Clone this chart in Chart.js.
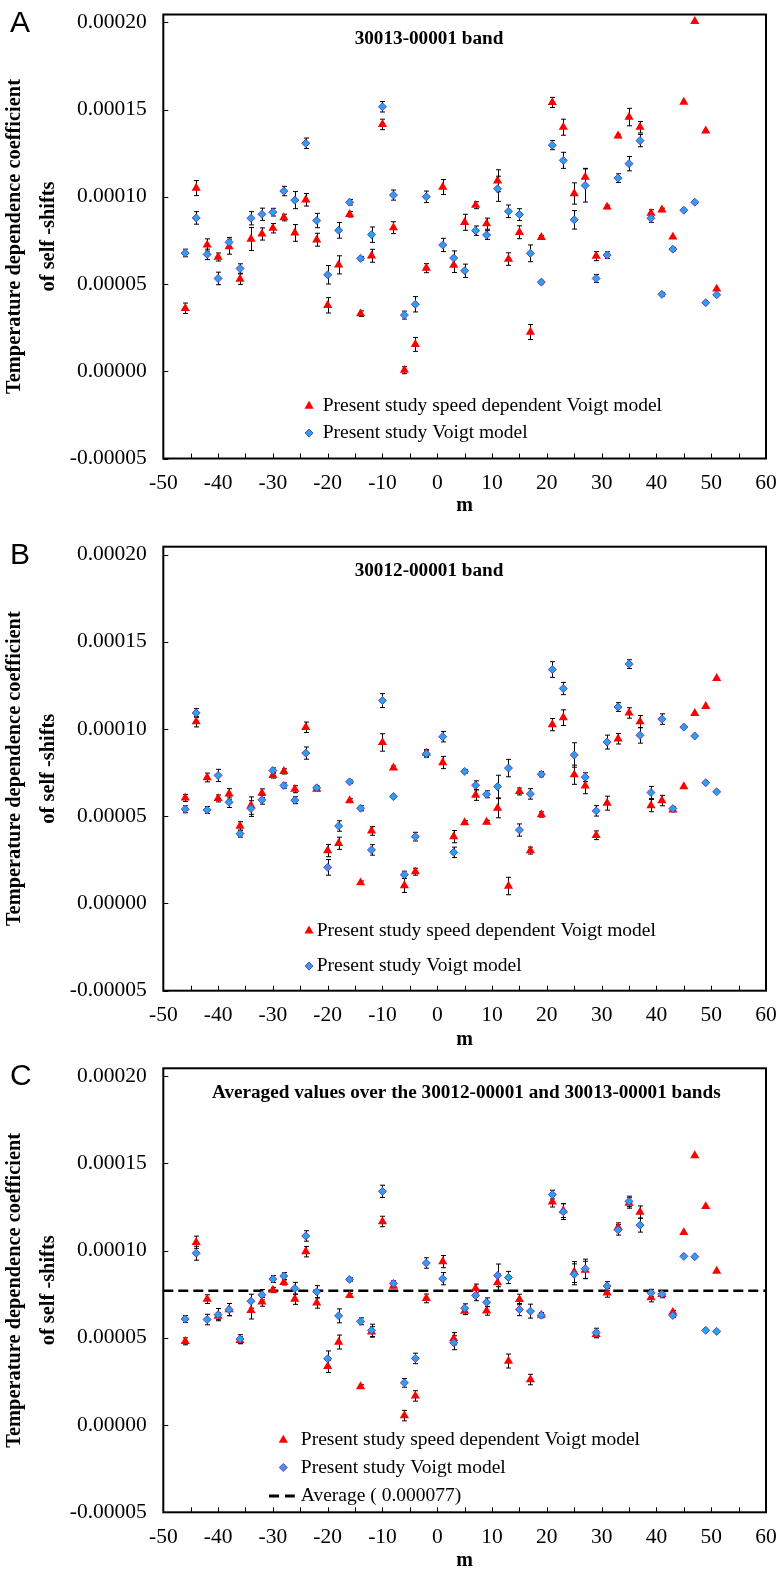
<!DOCTYPE html>
<html>
<head>
<meta charset="utf-8">
<script src="https://cdn.jsdelivr.net/npm/chart.js@4.4.1/dist/chart.umd.min.js"></script>
<style>
  html, body { margin: 0; padding: 0; background: #fff; }
  #wrap { position: relative; width: 780px; height: 1571px; }
  #wrap canvas { position: absolute; left: 0; }
</style>
</head>
<body>
<div id="wrap">
  <canvas id="chartA" width="780" height="525" style="top:0px"></canvas>
  <canvas id="chartB" width="780" height="530" style="top:525px"></canvas>
  <canvas id="chartC" width="780" height="516" style="top:1055px"></canvas>
</div>
<script>
// m values (P branch even, R branch odd)
const mValues = [-46,-44,-42,-40,-38,-36,-34,-32,-30,-28,-26,-24,-22,-20,-18,-16,-14,-12,-10,-8,-6,-4,-2,
  1,3,5,7,9,11,13,15,17,19,21,23,25,27,29,31,33,35,37,39,41,43,45,47,49,51];

const xTickValues = [-50,-40,-30,-20,-10,0,10,20,30,40,50,60];
const xTickMarks = [-50,-45,-40,-35,-30,-25,-20,-15,-10,-5,0,5,10,15,20,25,30,35,40,45,50,55,60];
const yTickValues = [-0.00005, 0, 0.00005, 0.0001, 0.00015, 0.0002];

// values below read in units of 1e-5
const SCALE = 1e-5;

// A: 30013-00001 band
const sdvA = [3.61,10.5,7.24,6.55,7.14,5.28,7.58,7.87,8.20,8.81,7.93,9.83,7.54,3.78,6.10,9.0,3.30,6.62,14.15,8.23,0.06,1.54,5.91,
  10.56,6.08,8.54,9.52,8.46,10.92,6.43,7.97,2.25,7.68,15.41,13.99,10.19,11.13,6.60,9.42,13.49,14.57,13.99,9.06,9.25,7.70,15.43,20.06,13.78,4.72];
const voigtA = [6.78,8.79,6.70,5.32,7.39,5.89,8.77,9.0,9.12,10.33,9.81,13.07,8.64,5.53,8.08,9.69,6.47,7.83,15.16,10.1,3.22,3.84,10.0,
  7.24,6.49,5.76,8.06,7.81,10.46,9.17,8.98,6.76,5.11,12.96,12.09,8.68,10.65,5.32,6.66,11.07,11.9,13.22,8.77,4.41,7.0,9.23,9.69,3.93,4.38];
const sdvErrA = [0.3,0.43,0.35,0.23,0.43,0.3,0.66,0.35,0.27,0.19,0.48,0.36,0.37,0.44,0.52,0.16,0.16,0.37,0.3,0.34,0.2,0.4,0.26,
  0.43,0.42,0.46,0.2,0.32,0.63,0.36,0.37,0.43,0.1,0.29,0.46,0.61,0.5,0.26,0.1,0.1,0.5,0.33,0.2,0.1,0,0,0,0,0];
const voigtErrA = [0.22,0.36,0.3,0.36,0.28,0.27,0.38,0.35,0.22,0.27,0.49,0.3,0.41,0.53,0.45,0.16,0.1,0.44,0.3,0.29,0.23,0.44,0.33,
  0.38,0.41,0.38,0.27,0.25,0.72,0.36,0.34,0.48,0.1,0.26,0.46,0.53,0.95,0.23,0.19,0.25,0.41,0.35,0.23,0.1,0.1,0,0,0,0];

// B: 30012-00001 band
const sdvB = [6.05,10.42,7.22,6.02,6.28,4.44,5.61,6.32,7.34,7.57,6.55,10.1,6.55,3.03,3.45,5.90,1.19,4.16,9.23,7.78,1.03,1.82,8.62,
  8.08,3.83,4.64,6.21,4.67,5.46,1.0,6.42,3.03,5.10,10.25,10.65,7.38,6.74,3.91,5.75,9.44,10.92,10.42,5.61,5.90,5.36,6.70,10.9,11.3,12.91];
const voigtB = [5.40,10.92,5.36,7.34,5.80,4.0,5.44,5.94,7.62,6.76,5.92,8.62,6.63,2.07,4.44,6.97,5.46,3.07,11.63,6.13,1.65,3.83,8.58,
  9.56,2.93,7.57,6.78,6.26,6.70,7.76,4.21,6.28,7.41,13.41,12.32,8.51,7.24,5.31,9.25,11.26,13.72,9.64,6.36,10.57,5.44,10.11,9.6,6.92,6.40];
const sdvErrB = [0.2,0.3,0.25,0.2,0.3,0.25,0.5,0.25,0.15,0.15,0.2,0.3,0.1,0.35,0.35,0.1,0.1,0.25,0.5,0.1,0.4,0.2,0.2,
  0.35,0.35,0.1,0.3,0.1,0.55,0.5,0.2,0.2,0.15,0.35,0.45,0.55,0.45,0.25,0.4,0.3,0.3,0.35,0.35,0.3,0.1,0,0,0,0];
const voigtErrB = [0.2,0.25,0.2,0.35,0.3,0.2,0.45,0.25,0.15,0.15,0.2,0.35,0.1,0.45,0.3,0.1,0.15,0.3,0.4,0.1,0.2,0.25,0.2,
  0.3,0.3,0.1,0.25,0.2,0.65,0.5,0.35,0.3,0.15,0.45,0.35,0.7,0.25,0.3,0.4,0.25,0.25,0.45,0.35,0.3,0.1,0,0,0,0];

// C: averaged over both bands
const sdvC = [4.80,10.48,7.22,6.24,6.62,4.86,6.58,7.06,7.74,8.18,7.22,9.94,7.0,3.36,4.76,7.43,2.21,5.34,11.67,7.97,0.54,1.67,7.26,
  9.37,4.95,6.53,7.83,6.55,8.16,3.67,7.20,2.61,6.30,12.8,12.3,8.77,8.89,5.20,7.58,11.34,12.73,12.21,7.31,7.5,6.47,11.04,15.45,12.53,8.83];
const voigtC = [6.08,9.85,6.05,6.33,6.62,4.93,7.10,7.47,8.37,8.54,7.83,10.84,7.64,3.80,6.26,8.35,5.95,5.43,13.40,8.12,2.42,3.82,9.29,
  8.39,4.72,6.70,7.43,7.04,8.58,8.46,6.62,6.53,6.30,13.21,12.23,8.64,8.96,5.30,7.97,11.19,12.82,11.46,7.58,7.5,6.28,9.67,9.65,5.43,5.37];
const sdvErrC = [0.2,0.35,0.25,0.2,0.35,0.2,0.5,0.25,0.15,0.15,0.3,0.3,0.3,0.35,0.4,0.1,0.1,0.3,0.3,0.1,0.3,0.3,0.25,
  0.35,0.35,0.2,0.25,0.25,0.5,0.4,0.3,0.3,0.1,0.3,0.4,0.6,0.5,0.2,0.25,0.25,0.3,0.35,0.25,0.2,0.1,0,0,0,0];
const voigtErrC = [0.2,0.4,0.3,0.35,0.35,0.25,0.4,0.3,0.2,0.2,0.35,0.3,0.35,0.45,0.4,0.1,0.2,0.35,0.35,0.15,0.25,0.3,0.3,
  0.35,0.4,0.25,0.3,0.25,0.65,0.35,0.35,0.4,0.15,0.25,0.45,0.6,0.55,0.25,0.25,0.3,0.3,0.4,0.2,0.15,0.1,0,0,0,0];
const averageC = 0.000077;

const SERIF = '"Liberation Serif", "Times New Roman", serif';
const RED = '#ff0000';
const BLUE = '#27a3ec';
const BLUE_EDGE = '#6b3cc4';

function toPoints(vals) {
  return mValues.map((m, i) => ({ x: m, y: vals[i] * SCALE }));
}
function toErr(vals) {
  return vals.map(e => e * SCALE);
}

// vertical error bars, drawn under the markers
const errorBarPlugin = {
  id: 'errorBars',
  beforeDatasetsDraw(chart) {
    const ctx = chart.ctx;
    const yScale = chart.scales.y;
    ctx.save();
    ctx.strokeStyle = '#000';
    ctx.lineWidth = 1;
    chart.data.datasets.forEach((ds, i) => {
      if (!ds.errors) return;
      const meta = chart.getDatasetMeta(i);
      meta.data.forEach((pt, j) => {
        const e = ds.errors[j];
        if (!e) return;
        const v = ds.data[j].y;
        const y1 = yScale.getPixelForValue(v + e);
        const y2 = yScale.getPixelForValue(v - e);
        const x = Math.round(pt.x) + 0.5;
        ctx.beginPath();
        ctx.moveTo(x, y1); ctx.lineTo(x, y2);
        ctx.moveTo(x - 2.5, y1); ctx.lineTo(x + 2.5, y1);
        ctx.moveTo(x - 2.5, y2); ctx.lineTo(x + 2.5, y2);
        ctx.stroke();
      });
    });
    ctx.restore();
  }
};

function drawLegendMark(ctx, row, x, y, xEnd) {
  ctx.save();
  if (row.mark === 'tri') {
    ctx.fillStyle = RED;
    ctx.beginPath();
    ctx.moveTo(x, y - 5.3);
    ctx.lineTo(x + 4.6, y + 2.65);
    ctx.lineTo(x - 4.6, y + 2.65);
    ctx.closePath();
    ctx.fill();
  } else if (row.mark === 'dia') {
    ctx.fillStyle = BLUE;
    ctx.strokeStyle = BLUE_EDGE;
    ctx.lineWidth = 1;
    ctx.beginPath();
    ctx.moveTo(x, y - 4); ctx.lineTo(x + 4, y); ctx.lineTo(x, y + 4); ctx.lineTo(x - 4, y);
    ctx.closePath();
    ctx.fill();
    ctx.stroke();
  } else if (row.mark === 'dash') {
    ctx.strokeStyle = '#000';
    ctx.lineWidth = 3;
    ctx.setLineDash([10, 6]);
    ctx.beginPath();
    ctx.moveTo(x, y); ctx.lineTo(xEnd, y);
    ctx.stroke();
  }
  ctx.restore();
}

// frame, inward ticks, band title, legend and panel letter
const panelPlugin = {
  id: 'panel',
  afterDatasetsDraw(chart, args, opts) {
    const ctx = chart.ctx;
    const a = chart.chartArea;
    const x = chart.scales.x, y = chart.scales.y;
    ctx.save();
    ctx.strokeStyle = '#000';
    ctx.lineWidth = 1;
    ctx.beginPath();
    xTickMarks.forEach(v => {
      const px = Math.round(x.getPixelForValue(v)) + 0.5;
      ctx.moveTo(px, a.bottom); ctx.lineTo(px, a.bottom - 5);
    });
    yTickValues.forEach(v => {
      const py = Math.round(y.getPixelForValue(v)) + 0.5;
      ctx.moveTo(a.left, py); ctx.lineTo(a.left + 5, py);
    });
    ctx.stroke();

    ctx.lineWidth = 2;
    ctx.strokeRect(a.left, a.top, a.right - a.left, a.bottom - a.top);

    ctx.fillStyle = '#000';
    ctx.font = 'bold 19.2px ' + SERIF;
    ctx.textAlign = 'center';
    ctx.textBaseline = 'middle';
    ctx.fillText(opts.title, x.getPixelForValue(opts.titleAt[0]), y.getPixelForValue(opts.titleAt[1]));

    ctx.font = '19.5px ' + SERIF;
    ctx.textAlign = 'left';
    opts.legend.forEach(row => {
      const py = y.getPixelForValue(row.y);
      const xEnd = row.dashTo != null ? x.getPixelForValue(row.dashTo) : 0;
      drawLegendMark(ctx, row, x.getPixelForValue(row.markAt), py, xEnd);
      ctx.fillStyle = '#000';
      ctx.fillText(row.text, x.getPixelForValue(row.textAt), py);
    });

    ctx.font = '30px "Liberation Sans", Arial, sans-serif';
    ctx.textBaseline = 'alphabetic';
    ctx.textAlign = 'left';
    ctx.fillText(opts.letter, 10, a.top + 17);
    ctx.restore();
  }
};

function makeChart(id, cfg) {
  const datasets = [
    {
      label: 'Present study Voigt model',
      data: toPoints(cfg.voigt),
      errors: toErr(cfg.voigtErr),
      pointStyle: 'rectRot',
      pointRadius: 4,
      backgroundColor: BLUE,
      borderColor: BLUE_EDGE,
      borderWidth: 1,
      order: 1
    },
    {
      label: 'Present study speed dependent Voigt model',
      data: toPoints(cfg.sdv),
      errors: toErr(cfg.sdvErr),
      pointStyle: 'triangle',
      pointRadius: 5.3,
      backgroundColor: RED,
      borderColor: RED,
      borderWidth: 0,
      order: 2
    }
  ];
  if (cfg.average != null) {
    datasets.push({
      type: 'line',
      label: 'Average',
      data: [{ x: -50, y: cfg.average }, { x: 60, y: cfg.average }],
      borderColor: '#000',
      borderWidth: 2.6,
      borderDash: [10, 5],
      pointRadius: 0,
      fill: false,
      showLine: true,
      order: 3
    });
  }

  return new Chart(document.getElementById(id), {
    type: 'scatter',
    data: { datasets: datasets },
    options: {
      responsive: false,
      animation: false,
      events: [],
      layout: { padding: { top: cfg.padTop, right: 14, bottom: 0, left: 0 } },
      plugins: {
        legend: { display: false },
        tooltip: { enabled: false },
        panel: cfg.panel
      },
      scales: {
        x: {
          type: 'linear',
          min: -50,
          max: 60,
          afterBuildTicks: s => { s.ticks = xTickValues.map(v => ({ value: v })); },
          afterFit: s => { s.height = cfg.xAxisH; s.paddingLeft = 0; s.paddingRight = 0; },
          grid: { display: false, drawTicks: false },
          border: { display: false },
          ticks: { color: '#000', font: { family: SERIF, size: 21.5 }, padding: 12, maxRotation: 0, autoSkip: false },
          title: {
            display: true,
            text: 'm',
            color: '#000',
            font: { family: SERIF, size: 20, weight: 'bold', lineHeight: 1 },
            padding: { top: 0, bottom: cfg.mPad }
          }
        },
        y: {
          type: 'linear',
          min: -0.00005,
          max: 0.0002045,
          afterBuildTicks: s => { s.ticks = yTickValues.map(v => ({ value: v })); },
          afterFit: s => { s.width = 163.3; s.paddingTop = 0; s.paddingBottom = 0; },
          grid: { display: false, drawTicks: false },
          border: { display: false },
          ticks: {
            color: '#000',
            font: { family: SERIF, size: 21.5 },
            padding: 16.5,
            callback: v => v.toFixed(5)
          },
          title: {
            display: true,
            text: ['Temperature dependence coefficient', 'of self -shifts'],
            color: '#000',
            font: { family: SERIF, size: 20.4, weight: 'bold', lineHeight: 1.7 },
            padding: { top: -3, bottom: 0 }
          }
        }
      }
    },
    plugins: [errorBarPlugin, panelPlugin]
  });
}

makeChart('chartA', {
  sdv: sdvA, voigt: voigtA, sdvErr: sdvErrA, voigtErr: voigtErrA,
  padTop: 14.5, xAxisH: 66.5, mPad: 9,
  panel: {
    letter: 'A',
    title: '30013-00001 band',
    titleAt: [-1.5, 0.0001904],
    legend: [
      { mark: 'tri', markAt: -23.4, textAt: -20.9, y: -0.0000199, text: 'Present study speed dependent Voigt model' },
      { mark: 'dia', markAt: -23.4, textAt: -20.9, y: -0.0000354, text: 'Present study Voigt model' }
    ]
  }
});

makeChart('chartB', {
  sdv: sdvB, voigt: voigtB, sdvErr: sdvErrB, voigtErr: voigtErrB,
  padTop: 21.7, xAxisH: 64.3, mPad: 5,
  panel: {
    letter: 'B',
    title: '30012-00001 band',
    titleAt: [-1.5, 0.0001906],
    legend: [
      { mark: 'tri', markAt: -23.4, textAt: -22.0, y: -0.0000157, text: 'Present study speed dependent Voigt model' },
      { mark: 'dia', markAt: -23.4, textAt: -22.0, y: -0.0000359, text: 'Present study Voigt model' }
    ]
  }
});

makeChart('chartC', {
  sdv: sdvC, voigt: voigtC, sdvErr: sdvErrC, voigtErr: voigtErrC, average: averageC,
  padTop: 13.3, xAxisH: 58.7, mPad: 0,
  panel: {
    letter: 'C',
    title: 'Averaged values over the 30012-00001 and 30013-00001 bands',
    titleAt: [5.3, 0.0001903],
    legend: [
      { mark: 'tri', markAt: -28.1, textAt: -24.9, y: -0.0000086, text: 'Present study speed dependent Voigt model' },
      { mark: 'dia', markAt: -28.1, textAt: -24.9, y: -0.0000243, text: 'Present study Voigt model' },
      { mark: 'dash', markAt: -30.7, dashTo: -26.0, textAt: -24.9, y: -0.0000406, text: 'Average ( 0.000077)' }
    ]
  }
});
</script>
</body>
</html>
